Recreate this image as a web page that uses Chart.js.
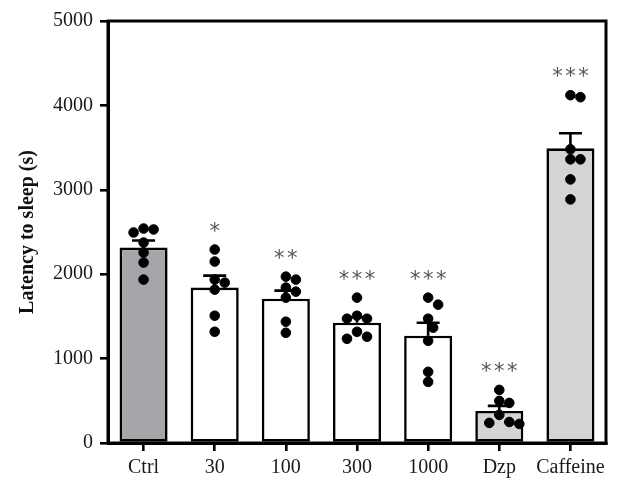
<!DOCTYPE html>
<html>
<head>
<meta charset="utf-8">
<script src="https://cdn.jsdelivr.net/npm/chart.js@4.4.1/dist/chart.umd.min.js"></script>
<style>
    body { margin: 0; background: #fff; }
    #wrap { width: 624px; height: 492px; }
</style>
</head>
<body>
<div id="wrap"><canvas id="sleepChart" width="624" height="492"></canvas></div>
<script>
// groups and read-off values (latency, s)
const groups = ['Ctrl', '30', '100', '300', '1000', 'Dzp', 'Caffeine'];
const means = [2316, 1841, 1710, 1425, 1271, 380, 3492];
const sems = [84, 142, 95, 65, 154, 60, 178];
const stars = ['', '*', '**', '***', '***', '***', '***'];

const ctrlDots = [2541, 2530, 2494, 2375, 2257, 2138, 1936];
const dose30Dots = [2292, 2150, 1936, 1900, 1817, 1508, 1318];
const dose100Dots = [1971, 1936, 1841, 1793, 1722, 1437, 1306];
const dose300Dots = [1722, 1508, 1473, 1473, 1318, 1259, 1235];
const dose1000Dots = [1722, 1639, 1473, 1366, 1211, 843, 724];
const dzpDots = [629, 499, 475, 333, 249, 238, 226];
const caffeineDots = [4121, 4097, 3480, 3361, 3361, 3123, 2886];
const allDots = [ctrlDots, dose30Dots, dose100Dots, dose300Dots, dose1000Dots, dzpDots, caffeineDots];

const barColors = ['#a6a6aa', '#ffffff', '#ffffff', '#ffffff', '#ffffff', '#d4d4d4', '#d4d4d4'];

// simple beeswarm so overlapping dots spread sideways
const pxPerGroup = 71.1, pxPerUnit = 0.0842, dotSize = 10;
function swarm(values, groupIndex) {
    const placed = [];
    values.forEach(function(v) {
        const py = v * pxPerUnit;
        let off = 0;
        for (let k = 0; k < 12; k++) {
            const cand = k === 0 ? 0 : (k % 2 ? 1 : -1) * Math.ceil(k / 2) * dotSize * 0.5;
            const clash = placed.some(p => Math.hypot(p.px - cand, p.py - py) < dotSize * 0.95);
            if (!clash) { off = cand; break; }
        }
        placed.push({ px: off, py: py, v: v });
    });
    return placed.map(p => ({ x: groupIndex + p.px / pxPerGroup, y: p.v }));
}
const dotPoints = [];
allDots.forEach((vals, i) => dotPoints.push(...swarm(vals, i)));

const extrasPlugin = {
    id: 'extras',
    afterDatasetDraw(chart, args) {
        if (args.index !== 0) return;
        const ctx = chart.ctx;
        const x = chart.scales.x, y = chart.scales.y;
        ctx.save();
        ctx.strokeStyle = '#000';
        ctx.lineWidth = 2.6;
        means.forEach(function(m, i) {
            const cx = x.getPixelForValue(i);
            const top = y.getPixelForValue(m + sems[i]);
            ctx.beginPath();
            ctx.moveTo(cx, y.getPixelForValue(m));
            ctx.lineTo(cx, top);
            ctx.moveTo(cx - 11.5, top);
            ctx.lineTo(cx + 11.5, top);
            ctx.stroke();
        });
        ctx.restore();
    },
    afterDatasetsDraw(chart) {
        const ctx = chart.ctx;
        const a = chart.chartArea;
        const x = chart.scales.x, y = chart.scales.y;
        ctx.save();
        ctx.strokeStyle = '#000';
        ctx.lineWidth = 3;
        ctx.strokeRect(a.left, a.top, a.right - a.left, a.bottom - a.top);

        // significance stars
        ctx.fillStyle = '#555';
        ctx.font = '21px "DejaVu Sans"';
        ctx.textAlign = 'center';
        ctx.textBaseline = 'alphabetic';
        stars.forEach(function(s, i) {
            if (!s) return;
            const hi = Math.max(Math.max(...allDots[i]), means[i] + sems[i]);
            const cy = y.getPixelForValue(hi) - 24;
            const cx = x.getPixelForValue(i);
            for (let k = 0; k < s.length; k++) {
                const sx = cx + (k - (s.length - 1) / 2) * 13;
                ctx.fillText('*', sx, cy + 12);
            }
        });
        ctx.restore();
    }
};

const serif = '"Liberation Serif", "DejaVu Serif", serif';

new Chart(document.getElementById('sleepChart'), {
    data: {
        labels: groups,
        datasets: [{
            type: 'bar',
            data: means,
            backgroundColor: barColors,
            borderColor: '#000',
            borderWidth: 2.6,
            borderSkipped: false,
            grouped: false,
            barPercentage: 0.675,
            categoryPercentage: 1,
            order: 2
        }, {
            type: 'scatter',
            data: dotPoints,
            xAxisID: 'xDots',
            backgroundColor: '#000',
            borderColor: '#000',
            pointRadius: 4.8,
            order: 1
        }]
    },
    plugins: [extrasPlugin],
    options: {
        responsive: false,
        animation: false,
        layout: { padding: { top: 21, right: 18, left: 0, bottom: 0 } },
        plugins: {
            legend: { display: false },
            tooltip: { enabled: false }
        },
        scales: {
            x: {
                type: 'category',
                offset: true,
                border: { display: true, color: '#000', width: 3 },
                grid: { offset: false, drawOnChartArea: false, tickLength: 8, lineWidth: 2.6, color: '#000' },
                ticks: { color: '#1a1a1a', font: { family: serif, size: 20 }, padding: 5, maxRotation: 0, autoSkip: false },
                afterFit(scale) { scale.height = 49; }
            },
            xDots: {
                type: 'linear',
                display: false,
                min: -0.5,
                max: 6.5
            },
            y: {
                min: 0,
                max: 5000,
                border: { display: true, color: '#000', width: 3 },
                grid: { drawOnChartArea: false, tickLength: 8, lineWidth: 2.6, color: '#000' },
                ticks: {
                    stepSize: 1000,
                    color: '#1a1a1a',
                    font: { family: serif, size: 20 },
                    padding: 7,
                    callback: v => String(v)
                },
                title: {
                    display: true,
                    text: 'Latency to sleep (s)',
                    color: '#111',
                    font: { family: serif, size: 20, weight: 'bold' },
                    padding: { top: 16, bottom: 0 }
                },
                afterFit(scale) { scale.width = 108; }
            }
        }
    }
});
</script>
</body>
</html>
